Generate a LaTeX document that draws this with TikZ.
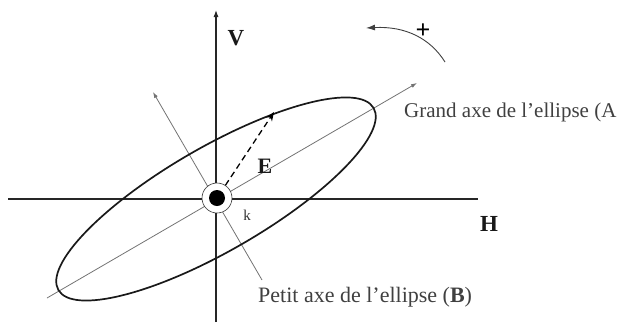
\documentclass[tikz,border=0pt]{standalone}
\usepackage{fontspec}
\setmainfont{Liberation Serif}
\usetikzlibrary{arrows.meta}
\begin{document}
\begin{tikzpicture}[x=1pt,y=-1pt,
  axis/.style={line width=1.1pt,draw=black!85,-{Latex[length=7pt,width=5pt]}},
  ellaxis/.style={line width=0.8pt,draw=black!55,-{Latex[length=6pt,width=4pt]}},
  ell/.style={line width=1.7pt,draw=black!90},
  lbl/.style={font=\fontsize{22}{24}\selectfont,text=black!75,inner sep=0pt,anchor=west},
  bigl/.style={font=\fontsize{23}{25}\selectfont\bfseries,text=black!90,inner sep=0pt}]
\useasboundingbox (0,0) rectangle (624,322);
% coordinates
\coordinate (hL) at (8,199);
\coordinate (hR) at (478,199);
\coordinate (vB) at (216,322);
\coordinate (vT) at (216,10);
\coordinate (aL) at (47,298);
\coordinate (aR) at (417,83);
\coordinate (bT) at (153,92);
\coordinate (bB) at (262,280);
% axes
\draw[line width=1.1pt,draw=black!85] (hL) -- (hR);
\draw[axis] (vB) -- (vT);
\draw[ellaxis] (aL) -- (aR);
\draw[ellaxis] (bB) -- (bT);
% ellipse
\begin{scope}[shift={(216,199)},rotate=30]
\draw[ell] (0,0) ellipse [x radius=182, y radius=52];
\end{scope}
% center
\node[circle,draw=black!80,line width=0.6pt,fill=white,minimum size=30pt,inner sep=0pt] (ring) at (217,198) {};
\node[circle,fill=black,minimum size=16pt,inner sep=0pt] (O) at (217,198) {};
% E vector
\coordinate (Etip) at (274,112);
\draw[line width=1.3pt,dash pattern=on 6pt off 4pt,-{Stealth[open,length=9pt,width=7pt]}] (ring) -- (Etip);
\node[bigl,font=\fontsize{22}{24}\selectfont\bfseries] (E) at (265,166) {E};
\node[font=\fontsize{15}{17}\selectfont,text=black!80,inner sep=0pt] (k) at (247,215) {k};
% labels
\node[bigl] (V) at (236,38) {V};
\node[bigl] (H) at (489,224) {H};
\node[lbl,font=\fontsize{21}{23}\selectfont] (A) at (404,112) {Grand axe de l'ellipse (A};
\node[lbl] (B) at (258,297) {Petit axe de l'ellipse (\textbf{B})};
% rotation sense
\coordinate (rs) at (445,62);
\coordinate (re) at (366,28);
\draw[line width=0.9pt,draw=black!75,-{Latex[length=9pt,width=6pt]}] (rs) .. controls (430,38) and (405,26) .. (re);
\node[font=\fontsize{26}{28}\selectfont\bfseries,inner sep=0pt] (plus) at (423,31) {+};
\end{tikzpicture}
\end{document}
